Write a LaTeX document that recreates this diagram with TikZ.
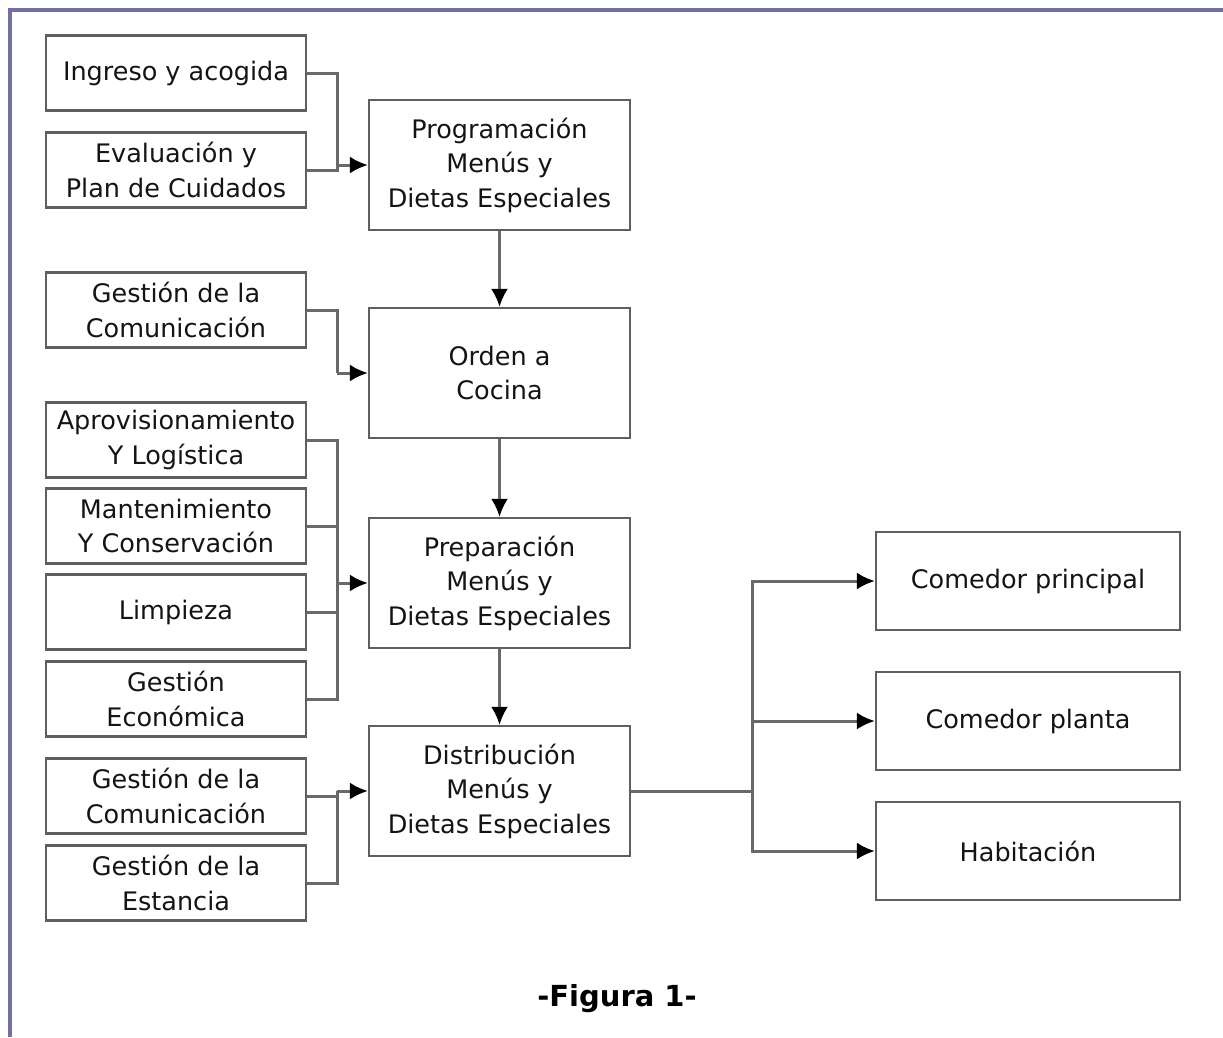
\documentclass[tikz,border=0pt]{standalone}
\usepackage{fontspec}
\setmainfont{DejaVu Sans}
\usepackage{tikz}
\usetikzlibrary{arrows.meta,positioning,calc}
\usepackage{xcolor}
\definecolor{frameblue}{RGB}{112,112,165}
\definecolor{boxgray}{RGB}{95,95,95}
\definecolor{linkgray}{RGB}{105,105,105}
\definecolor{inktext}{RGB}{20,20,20}
\tikzset{
    box/.style={
        draw=boxgray,line width=2.2pt,fill=white,
        align=center,text=inktext,inner sep=1pt,
        font=\fontsize{25.5}{34.5}\selectfont
    },
    inbox/.style={box,minimum width=260pt,minimum height=75pt},
    stepbox/.style={box,minimum width=261pt,minimum height=130pt},
    outbox/.style={box,minimum width=304pt,minimum height=98pt},
    link/.style={draw=linkgray,line width=3pt},
    arrow/.style={
        link,-{Latex[length=18pt,width=17pt,color=black]}
    }
}
\begin{document}
\begin{tikzpicture}[x=1pt,y=-1pt]
\useasboundingbox (0,0) rectangle (1223,1037);

% marco
\draw[frameblue,line width=3.5pt] (1223,10) -- (10,10) -- (10,1037);

% entradas
\node[inbox] (ingreso) at (176,73) {Ingreso y acogida};
\node[inbox] (evaluacion) at (176,170) {Evaluación y\\Plan de Cuidados};
\node[inbox] (comun1) at (176,310) {Gestión de la\\Comunicación};
\node[inbox] (aprov) at (176,440) {Aprovisionamiento\\Y Logística};
\node[inbox] (mant) at (176,526) {Mantenimiento\\Y Conservación};
\node[inbox] (limp) at (176,612) {Limpieza};
\node[inbox] (econ) at (176,699) {Gestión\\Económica};
\node[inbox] (comun2) at (176,796) {Gestión de la\\Comunicación};
\node[inbox] (estancia) at (176,883) {Gestión de la\\Estancia};

% proceso
\node[stepbox] (prog) at (499.5,165) {Programación\\Menús y\\Dietas Especiales};
\node[stepbox] (orden) at (499.5,373) {Orden a\\Cocina};
\node[stepbox] (prep) at (499.5,583) {Preparación\\Menús y\\Dietas Especiales};
\node[stepbox] (dist) at (499.5,791) {Distribución\\Menús y\\Dietas Especiales};

% destinos
\node[outbox] (cprin) at (1028,581) {Comedor principal};
\node[outbox] (cplanta) at (1028,721) {Comedor planta};
\node[outbox] (habit) at (1028,851) {Habitación};

% uniones
\coordinate (j1) at (337,165);
\coordinate (j2) at (337,373);
\coordinate (j3) at (337,583);
\coordinate (j4) at (337,791);
\coordinate (j5) at (752,791);

\draw[link] (ingreso.east) -| (j1);
\draw[link] (evaluacion.east) -| (j1);
\draw[arrow] (j1) -- (prog);

\draw[link] (comun1.east) -| (j2);
\draw[arrow] (j2) -- (orden);

\draw[link] (aprov.east) -| (j3);
\draw[link] (econ.east) -| (j3);
\draw[link] (mant.east) -- (mant.east -| j3);
\draw[link] (limp.east) -- (limp.east -| j3);
\draw[arrow] (j3) -- (prep);

\draw[link] (comun2.east) -| (j4);
\draw[link] (estancia.east) -| (j4);
\draw[arrow] (j4) -- (dist);

\draw[arrow] (prog) -- (orden);
\draw[arrow] (orden) -- (prep);
\draw[arrow] (prep) -- (dist);

\draw[link] (dist) -- (j5);
\draw[arrow] (j5) |- (cprin);
\draw[arrow] (j5) |- (cplanta);
\draw[arrow] (j5) |- (habit);

\node[font=\fontsize{29}{33}\selectfont\bfseries] (caption) at (617,999) {-Figura 1-};
\end{tikzpicture}
\end{document}
